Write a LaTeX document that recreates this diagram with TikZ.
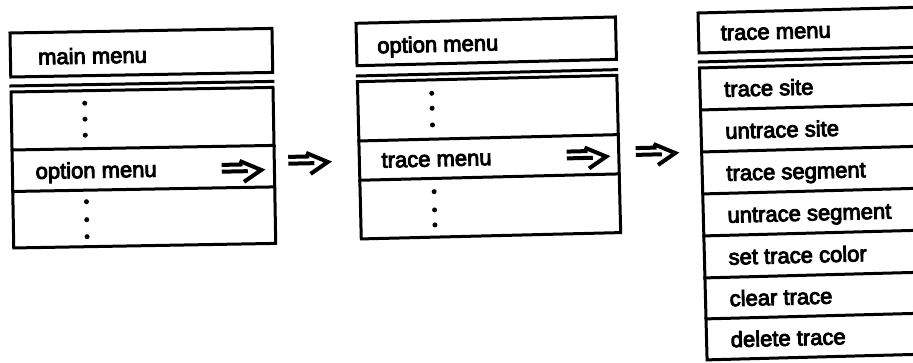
\documentclass[tikz,border=0pt]{standalone}
\usepackage{fontspec}
\newfontfamily\menufont{Liberation Sans}[FakeBold=4]
\tikzset{
  menuline/.style={line width=3pt, line cap=rect},
  menutext/.style={anchor=base west, inner sep=0pt, font=\menufont\fontsize{22}{26}\selectfont},
  glyphline/.style={line width=4pt},
  pics/dblarrow/.style={code={
    \draw[glyphline] (0,-3.4) -- (21,-3.4);
    \draw[glyphline] (0,3.4) -- (26,3.4);
    \draw[glyphline, line join=miter] (18,-7) -- (39.5,2.5) -- (22,14);
  }}
}
\begin{document}
\begin{tikzpicture}[x=1pt,y=-1pt]
\useasboundingbox (0,0) rectangle (913,362);
\clip (0,0) rectangle (913,362);
% ---------- main menu ----------
\begin{scope}[shift={(10,33)}, rotate=1.0, transform shape]
  \draw[menuline] (0,0) rectangle (262,44);
  \draw[menuline] (0,53) -- (262,53);
  \draw[menuline] (0,59) rectangle (262,215);
  \draw[menuline] (0,117) -- (262,117);
  \draw[menuline] (0,158.5) -- (262,158.5);
  \node[menutext] (mtitle) at (27.5,32) {main menu};
  \node[menutext] (mopt) at (23,146.3) {option menu};
  \foreach \yy in {71.5,87.5,103.5,170,188,205} \fill (73.5,\yy) circle (2.5pt);
\end{scope}
% ---------- option menu ----------
\begin{scope}[shift={(356,23.3)}, rotate=1.4, transform shape]
  \draw[menuline] (0,0) rectangle (259.5,42.4);
  \draw[menuline] (0,52.7) -- (259.5,52.7);
  \draw[menuline] (0,58.4) rectangle (259.5,215.7);
  \draw[menuline] (0,117.7) -- (259.5,117.7);
  \draw[menuline] (0,157) -- (259.5,157);
  \node[menutext] (otitle) at (20.5,30.5) {option menu};
  \node[menutext] (otrace) at (22,145) {trace menu};
  \foreach \yy in {71.8,86.8,103.5,170.2,188.5,203.5} \fill (74,\yy) circle (2.5pt);
\end{scope}
% ---------- trace menu ----------
\begin{scope}[shift={(698,13)}, rotate=1.5, transform shape]
  \draw[menuline] (0,0) rectangle (262,40);
  \draw[menuline] (0,49) -- (262,49);
  \draw[menuline] (0,55) rectangle (262,347);
  \foreach \yy in {97,139,181,223,265,306} \draw[menuline] (0,\yy) -- (262,\yy);
  \node[menutext] (ttitle) at (22,28) {trace menu};
  \node[menutext] (t1) at (24,84.5) {trace site};
  \node[menutext] (t2) at (24,126.5) {untrace site};
  \node[menutext] (t3) at (24,168.5) {trace segment};
  \node[menutext] (t4) at (24,210.5) {untrace segment};
  \node[menutext] (t5) at (24,252.5) {set trace color};
  \node[menutext] (t6) at (24,294) {clear trace};
  \node[menutext] (t7) at (24,335) {delete trace};
\end{scope}
% ---------- arrows ----------
\pic[rotate=1.2] (a1) at (221.7,168.3) {dblarrow};
\pic[rotate=1.2] (a2) at (288.3,160.3) {dblarrow};
\pic[rotate=1.4] (a3) at (566.7,155) {dblarrow};
\pic[rotate=1.4] (a4) at (635.7,151.5) {dblarrow};
\end{tikzpicture}
\end{document}
